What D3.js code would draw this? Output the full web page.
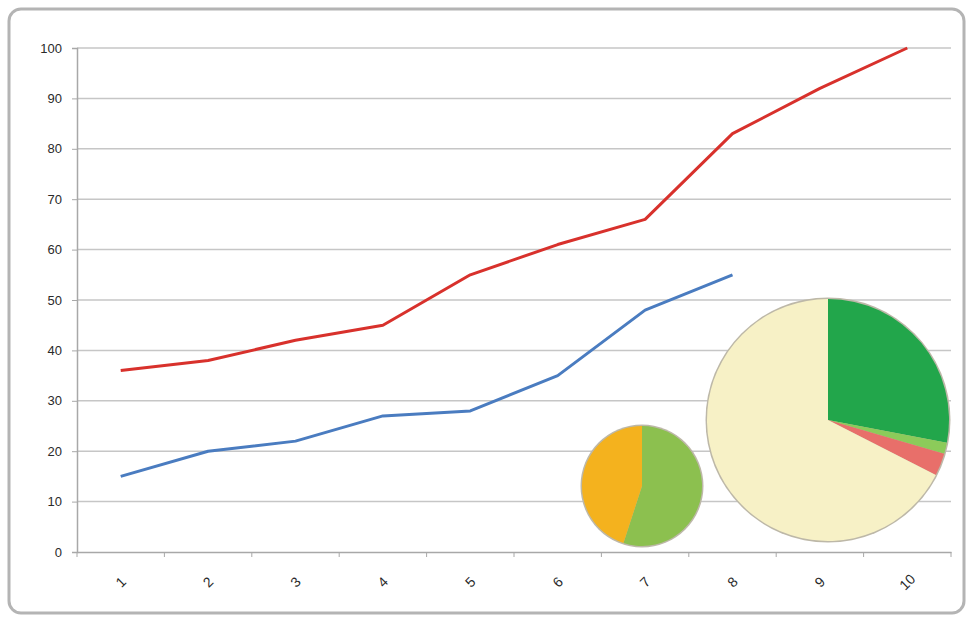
<!DOCTYPE html>
<html>
<head>
<meta charset="utf-8">
<script src="https://cdn.jsdelivr.net/npm/d3@7"></script>
<style>
  body { margin: 0; background: #fff; }
  svg { display: block; font-family: "Open Sans", "DejaVu Sans", sans-serif; }
</style>
</head>
<body>
<div id="chart"></div>
<script>
const categories = ["1", "2", "3", "4", "5", "6", "7", "8", "9", "10"];
const redValues = [36, 38, 42, 45, 55, 61, 66, 83, 92, 100];
const blueValues = [15, 20, 22, 27, 28, 35, 48, 55];
const yTicks = [0, 10, 20, 30, 40, 50, 60, 70, 80, 90, 100];
const smallPie = [55, 45];
const smallPieColors = ["#8cc04f", "#f4b21e"];
const bigPie = [28, 1.5, 3, 67.5];
const bigPieColors = ["#22a64b", "#8ccb5a", "#e86f6a", "#f7f1c6"];

const width = 968, height = 618;
const margin = { left: 77, right: 17, top: 48, bottom: 66 };

const svg = d3.select("#chart").append("svg")
  .attr("width", width)
  .attr("height", height);

// 外框
svg.append("rect")
  .attr("x", 9).attr("y", 9)
  .attr("width", 955).attr("height", 604)
  .attr("rx", 12)
  .attr("fill", "#fff")
  .attr("stroke", "#b4b4b4")
  .attr("stroke-width", 3);

const x = d3.scaleBand()
  .domain(categories)
  .range([margin.left, width - margin.right]);

const y = d3.scaleLinear()
  .domain([0, 100])
  .range([height - margin.bottom, margin.top]);

// 网格线
svg.append("g")
  .selectAll("line")
  .data(yTicks.filter(d => d > 0))
  .enter()
  .append("line")
  .attr("x1", margin.left)
  .attr("x2", width - margin.right)
  .attr("y1", d => y(d))
  .attr("y2", d => y(d))
  .attr("stroke", "#c6c6c6")
  .attr("stroke-width", 1.5);

// Y 轴
const yAxis = svg.append("g")
  .attr("transform", `translate(${margin.left},0)`)
  .call(d3.axisLeft(y).tickValues(yTicks).tickSize(5).tickPadding(10));
yAxis.select(".domain").attr("stroke", "#a8a8a8").attr("stroke-width", 1.5);
yAxis.selectAll(".tick line").attr("stroke", "#a8a8a8");
yAxis.selectAll("text")
  .style("font-size", "13px")
  .attr("fill", "#2a2a2a");

// X 轴
const xAxis = svg.append("g")
  .attr("transform", `translate(0,${y(0)})`)
  .call(d3.axisBottom(x).tickSize(0).tickPadding(0));
xAxis.select(".domain").attr("stroke", "#a8a8a8").attr("stroke-width", 1.5);
xAxis.selectAll("text")
  .style("font-size", "14px")
  .attr("fill", "#2a2a2a")
  .attr("text-anchor", "middle")
  .attr("dy", "0.35em")
  .attr("transform", "translate(0,30) rotate(-45)");

// 分类边界刻度
svg.append("g")
  .selectAll("line")
  .data(categories.concat(["end"]))
  .enter()
  .append("line")
  .attr("x1", (d, i) => margin.left + i * x.step())
  .attr("x2", (d, i) => margin.left + i * x.step())
  .attr("y1", y(0))
  .attr("y2", y(0) + 5)
  .attr("stroke", "#a8a8a8");

const line = d3.line()
  .x((d, i) => x(categories[i]) + x.bandwidth() / 2)
  .y(d => y(d));

svg.append("path")
  .datum(redValues)
  .attr("fill", "none")
  .attr("stroke", "#d8312c")
  .attr("stroke-width", 3)
  .attr("stroke-linejoin", "round")
  .attr("d", line);

svg.append("path")
  .datum(blueValues)
  .attr("fill", "none")
  .attr("stroke", "#4a7cc0")
  .attr("stroke-width", 3)
  .attr("stroke-linejoin", "round")
  .attr("d", line);

// 饼图
const pie = d3.pie().sort(null);

function drawPie(data, colors, cx, cy, r) {
  const g = svg.append("g").attr("transform", `translate(${cx},${cy})`);
  g.append("circle")
    .attr("r", r + 1.5)
    .attr("fill", "#bdb8a8");
  g.selectAll("path")
    .data(pie(data))
    .enter()
    .append("path")
    .attr("d", d3.arc().innerRadius(0).outerRadius(r))
    .attr("fill", (d, i) => colors[i]);
}

drawPie(smallPie, smallPieColors, 642, 486, 60);
drawPie(bigPie, bigPieColors, 828, 420, 121);
</script>
</body>
</html>
